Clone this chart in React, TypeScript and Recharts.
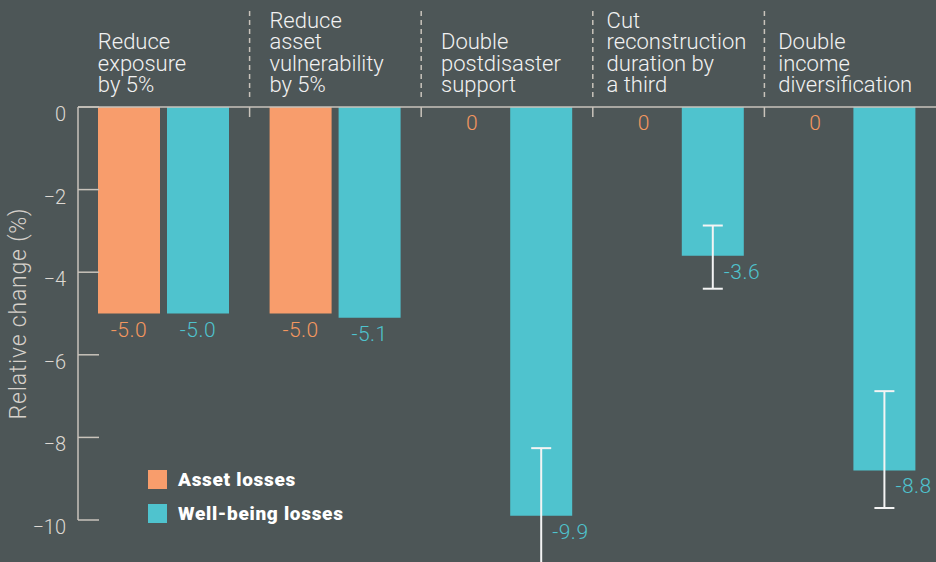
import React from 'react';
import { BarChart, Bar, XAxis, YAxis, ErrorBar, LabelList, ReferenceLine, Legend, Label } from 'recharts';

const categoryLines = [
  ['Reduce', 'exposure', 'by 5%'],
  ['Reduce', 'asset', 'vulnerability', 'by 5%'],
  ['Double', 'postdisaster', 'support'],
  ['Cut', 'reconstruction', 'duration by', 'a third'],
  ['Double', 'income', 'diversification'],
];
const categories = categoryLines.map((l) => l.join(' '));
const assetLosses = [-5.0, -5.0, 0, 0, 0];
const wellbeingLosses = [-5.0, -5.1, -9.9, -3.6, -8.8];
// [below, above] the value
const wellbeingErrors: ([number, number] | null)[] = [null, null, [1.65, 1.64], [0.8, 0.73], [0.91, 1.92]];
const yTicks = [0, -2, -4, -6, -8, -10];
const seriesNames = ['Asset losses', 'Well-being losses'];

const data = categories.map((name, i) => ({
  name,
  asset: assetLosses[i],
  wellbeing: wellbeingLosses[i],
  wellbeingErr: wellbeingErrors[i] ?? undefined,
}));

const BG = '#4d5657';
const ORANGE = '#f89d6c';
const TEAL = '#4fc3ce';
const AXIS = '#c9c3bb';
const FONT = 'Roboto, sans-serif';

const CategoryTick = (props: any) => {
  const { x, y, payload, index } = props;
  const i = payload?.index ?? index;
  const lines = categoryLines[i] || [];
  const left = x - (i < 3 ? 66 : 72);
  const lastBaseline = y - 15;
  return (
    <text fontFamily={FONT} fontSize={22} fontWeight={300} fill="#f2f2f2">
      {lines.map((l, k) => (
        <tspan key={k} x={left} y={lastBaseline - (lines.length - 1 - k) * 21.3}>
          {l}
        </tspan>
      ))}
    </text>
  );
};

const ValueTick = (props: any) => {
  const { x, y, payload } = props;
  const v = payload.value;
  return (
    <g>
      <line x1={x} x2={x + 21} y1={y} y2={y} stroke={AXIS} strokeWidth={1.5} />
      <text x={x - 12} y={y + 14} textAnchor="end" fontFamily={FONT} fontSize={20} fontWeight={300} fill="#ddd8d2">
        {v === 0 ? '0' : `\u2212${Math.abs(v)}`}
      </text>
    </g>
  );
};

const Divider = (p: any) => {
  const top = Math.min(p.y1, p.y2);
  return (
    <g>
      <line x1={p.x1} x2={p.x1} y1={top - 96} y2={top - 6} stroke={AXIS} strokeWidth={1.5} strokeDasharray="5 4" />
      <line x1={p.x1} x2={p.x1} y1={top} y2={top + 10} stroke={AXIS} strokeWidth={1.5} />
    </g>
  );
};

const makeValueLabel = (color: string, errors: ([number, number] | null)[] | null) => (props: any) => {
  const vb = props.viewBox && props.viewBox.width !== undefined ? props.viewBox : props;
  const { x, y, width, height } = vb;
  const { value, index } = props;
  const bottom = Math.max(y, y + height);
  const hasErr = errors && errors[index];
  const cx = x + width / 2;
  return (
    <text
      x={hasErr ? cx + 11 : cx}
      y={bottom + 23}
      textAnchor={hasErr ? 'start' : 'middle'}
      fontFamily={FONT}
      fontSize={21}
      fontWeight={300}
      letterSpacing={0.5}
      fill={color}
    >
      {value === 0 ? '0' : Number(value).toFixed(1)}
    </text>
  );
};

const LegendContent = ({ payload }: any) => (
  <div>
    {(payload || []).map((e: any, i: number) => (
      <div key={i} style={{ display: 'flex', alignItems: 'center', height: 20, marginBottom: 14 }}>
        <span style={{ width: 19, height: 19, background: e.color, marginRight: 11, display: 'inline-block' }} />
        <span style={{ fontFamily: FONT, fontWeight: 900, fontSize: 19, letterSpacing: 0.7, color: '#ffffff', whiteSpace: 'nowrap' }}>{e.value}</span>
      </div>
    ))}
  </div>
);

export default function App() {
  return (
    <div style={{ position: 'absolute', left: 0, top: 0, width: 936, height: 562, background: BG, overflow: 'hidden' }}>
      <BarChart
        width={936}
        height={562}
        data={data}
        margin={{ top: 7, right: 0, left: 0, bottom: 42 }}
        barSize={62}
        barGap={7}
      >
        <XAxis
          dataKey="name"
          orientation="top"
          height={100}
          axisLine={{ stroke: AXIS, strokeWidth: 1.5 }}
          tickLine={false}
          tickSize={0}
          tickMargin={0}
          interval={0}
          tick={<CategoryTick />}
        />
        <YAxis
          width={78}
          domain={[-10, 0]}
          allowDataOverflow
          ticks={yTicks}
          axisLine={{ stroke: AXIS, strokeWidth: 1.5 }}
          tickLine={false}
          tickSize={0}
          tickMargin={0}
          tick={<ValueTick />}
        >
          <Label
            content={(p: any) => {
              const vb = p.viewBox || {};
              const cy = vb.y + vb.height / 2;
              return (
                <text
                  x={18}
                  y={cy}
                  transform={`rotate(-90, 18, ${cy})`}
                  textAnchor="middle"
                  dominantBaseline="central"
                  fontFamily={FONT}
                  fontSize={23}
                  fontWeight={300}
                  letterSpacing={0.8}
                  fill="#d6d1cb"
                >
                  Relative change (%)
                </text>
              );
            }}
          />
        </YAxis>
        {categories.slice(1).map((c) => (
          <ReferenceLine key={c} x={c} position="start" shape={Divider} />
        ))}
        <Legend
          content={LegendContent}
          layout="horizontal"
          align="center"
          verticalAlign="middle"
          wrapperStyle={{ position: 'absolute', left: 148, top: 469, width: 'auto', height: 'auto' }}
        />
        <Bar dataKey="asset" name={seriesNames[0]} fill={ORANGE} minPointSize={0.3} isAnimationActive={false}>
          <LabelList dataKey="asset" content={makeValueLabel('#f4975f', null)} />
        </Bar>
        <Bar dataKey="wellbeing" name={seriesNames[1]} fill={TEAL} isAnimationActive={false}>
          <ErrorBar dataKey="wellbeingErr" width={10} stroke="#f4f4f4" strokeWidth={2} direction="y" />
          <LabelList dataKey="wellbeing" content={makeValueLabel(TEAL, wellbeingErrors)} />
        </Bar>
      </BarChart>
    </div>
  );
}
